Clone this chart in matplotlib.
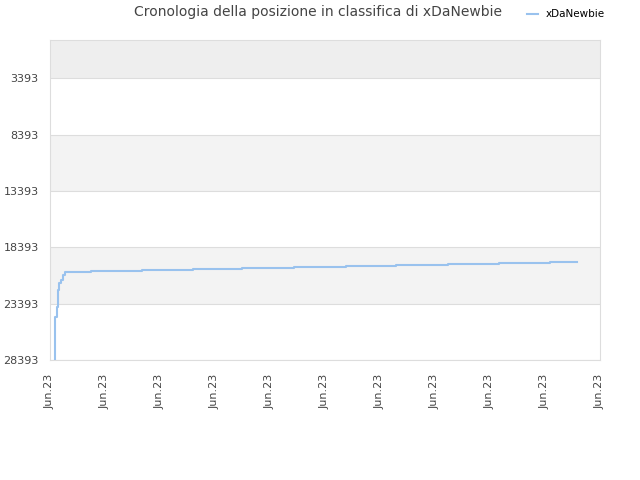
import matplotlib
matplotlib.use('Agg')
import matplotlib.pyplot as plt

# dati (x in unità di tick, y = posizione in classifica)
days = [0.09, 0.09, 0.10, 0.13, 0.15, 0.17, 0.20, 0.24, 0.28, 0.74, 1.67, 2.60,
        3.50, 4.44, 5.38, 6.30, 7.24, 8.16, 9.09, 9.58]
rank = [28393, 26620, 24580, 23693, 22187, 21566, 21300, 20857, 20590, 20500,
        20410, 20320, 20230, 20140, 20050, 19960, 19870, 19780, 19700, 19700]
yticks = [3393, 8393, 13393, 18393, 23393, 28393]
xlabels = ['Jun.23'] * 11

fig = plt.figure(figsize=(6.4, 4.8), dpi=100)
ax = fig.add_axes([0.078, 0.25, 0.8595, 0.6667])

# bande alternate
bands = [(0, 3393, '#eeeeee'), (8393, 13393, '#f3f3f3'), (18393, 23393, '#f3f3f3')]
for lo, hi, c in bands:
    ax.axhspan(lo, hi, color=c, zorder=0, lw=0)
for t in yticks:
    ax.axhline(t, color='#dddddd', lw=0.8, zorder=1)

ax.plot(days, rank, drawstyle='steps-post', color='#99c2ee', lw=1.5, zorder=3,
        label='xDaNewbie')

ax.set_xlim(0, 10)
ax.set_ylim(28393, 0)
ax.set_yticks(yticks)
ax.set_yticklabels([str(t) for t in yticks])
ax.set_xticks(range(11))
ax.set_xticklabels(xlabels, rotation=90)
ax.tick_params(length=0, labelsize=8, colors='#444444')
ax.tick_params(axis='y', pad=8)
ax.tick_params(axis='x', pad=10)
for s in ax.spines.values():
    s.set_color('#dddddd')

fig.text(0.497, 0.975, 'Cronologia della posizione in classifica di xDaNewbie',
         ha='center', va='center', fontsize=10, color='#444444')
fig.legend(loc='upper right', bbox_to_anchor=(0.96, 1.0), frameon=False,
           fontsize=7.5, handlelength=1.0, handletextpad=0.8)

fig.savefig('out.png', dpi=100)
